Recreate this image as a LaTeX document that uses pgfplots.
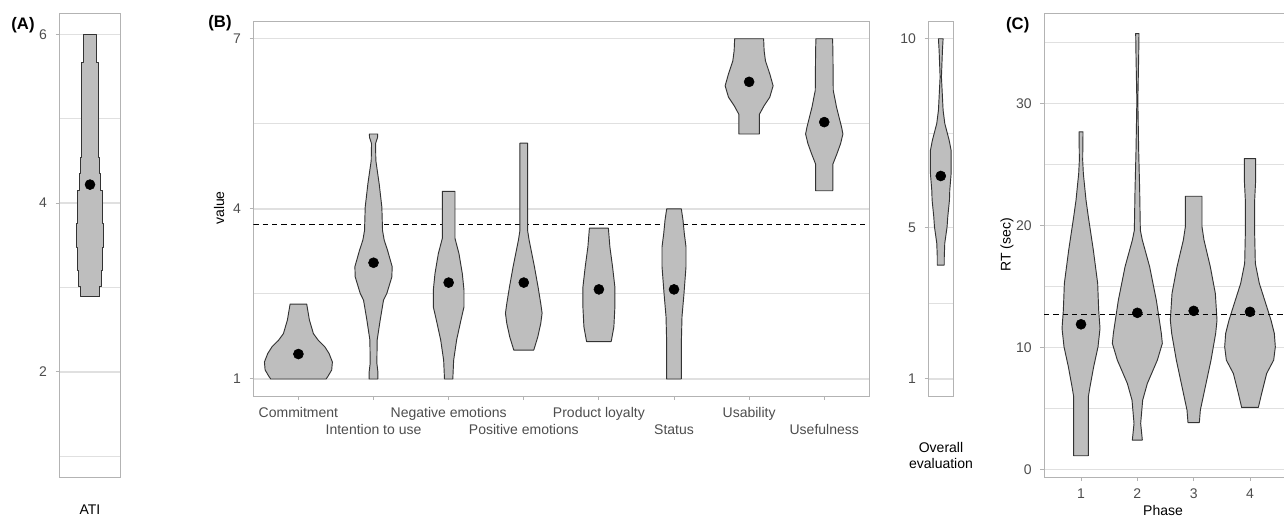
\documentclass[border=0pt]{standalone}
\usepackage{pgfplots}
\pgfplotsset{compat=1.18}
\usepackage{fontspec}
\setmainfont{Liberation Sans}
\definecolor{vfill}{HTML}{BEBEBE}
\definecolor{vdraw}{HTML}{333333}
\definecolor{gridc}{HTML}{E0E0E0}
\definecolor{boxc}{HTML}{B3B3B3}
\definecolor{tickc}{HTML}{4D4D4D}
\pgfplotsset{
 gg/.style={scale only axis, anchor=south west,
  axis line style={draw=boxc, line width=0.75pt},
  ymajorgrids, yminorgrids,
  major grid style={draw=gridc, line width=1pt},
  minor grid style={draw=gridc, line width=0.8pt},
  tick pos=left, tick align=outside, major tick length=2.75pt, minor tick length=0pt,
  tick style={draw=boxc, line width=0.75pt},
  ticklabel style={font=\fontsize{10.5}{12}\selectfont, text=tickc},
  yticklabel style={xshift=-3pt},
  xticklabel style={yshift=-2pt, text height=7.6pt, text depth=2.2pt},
  /pgf/number format/assume math mode=true},
 violin/.style={fill=vfill, draw=vdraw, line width=0.7pt, line join=round},
 mean/.style={only marks, mark=*, mark size=3.75pt, color=black},
}
\newcommand{\violin}[3]{\addplot[violin] table[x expr={#1+(\thisrow{w})/#2}, y=y, row sep=\\] {w y\\ #3};}
\begin{document}
\begin{tikzpicture}
% ---------------- (A)
\begin{axis}[gg, at={(44.5pt,30.5pt)}, width=46pt, height=348pt,
  xmin=0.4, xmax=1.6, ymin=0.75, ymax=6.25,
  ytick={2,4,6}, minor ytick={1,3,5}, xtick=\empty]
\violin{1}{155}{29 2.89\\ 29 3.01\\ 35 3.01\\ 35 3.20\\ 38 3.20\\ 38 3.48\\ 42 3.48\\ 42 3.76\\ 38 3.76\\ 38 4.15\\ 33 4.15\\ 33 4.35\\ 29 4.35\\ 29 4.54\\ 25 4.54\\ 25 5.67\\ 19 5.67\\ 19 6.0\\ -19 6.0\\ -19 5.67\\ -25 5.67\\ -25 4.54\\ -29 4.54\\ -29 4.35\\ -33 4.35\\ -33 4.15\\ -38 4.15\\ -38 3.76\\ -42 3.76\\ -42 3.48\\ -38 3.48\\ -38 3.20\\ -35 3.20\\ -35 3.01\\ -29 3.01\\ -29 2.89\\ 29 2.89\\}
\addplot[mean] coordinates {(1,4.22)};
\end{axis}
% ---------------- (B)
\begin{axis}[gg, at={(190pt,91.5pt)}, width=462pt, height=280.7pt,
  xmin=0.4, xmax=8.6, ymin=0.7, ymax=7.3,
  ytick={1,4,7}, minor ytick={2.5,5.5},
  xtick={1,3,5,7}, xticklabels={Commitment,Negative emotions,Product loyalty,Usability},
  extra x ticks={2,4,6,8}, extra x tick labels={Intention to use,Positive emotions,Status,Usefulness},
  extra x tick style={xticklabel style={yshift=-12.75pt}}]
\addplot[black, dashed, line width=0.75pt, dash pattern=on 4pt off 3pt] coordinates {(0.4,3.72) (8.6,3.72)};
\violin{1}{225.5}{83 1.0\\ 88 1.04\\ 100 1.16\\ 102 1.30\\ 92 1.45\\ 79 1.57\\ 60 1.68\\ 45 1.80\\ 33 2.04\\ 25 2.32\\ -25 2.32\\ -33 2.04\\ -45 1.80\\ -60 1.68\\ -79 1.57\\ -92 1.45\\ -102 1.30\\ -100 1.16\\ -88 1.04\\ -83 1.0\\ 83 1.0\\}
\violin{2}{225.5}{13 1.0\\ 13 1.13\\ 10 1.28\\ 11 1.69\\ 20 2.04\\ 30 2.39\\ 40 2.51\\ 55 2.80\\ 56 2.98\\ 42 3.27\\ 32 3.45\\ 27 3.62\\ 25 4.03\\ 17 4.44\\ 7 4.85\\ 6 5.15\\ 12 5.26\\ 12.5 5.32\\ -12.5 5.32\\ -12 5.26\\ -6 5.15\\ -7 4.85\\ -17 4.44\\ -25 4.03\\ -27 3.62\\ -32 3.45\\ -42 3.27\\ -56 2.98\\ -55 2.80\\ -40 2.51\\ -30 2.39\\ -20 2.04\\ -11 1.69\\ -10 1.28\\ -13 1.13\\ -13 1.0\\ 13 1.0\\}
\violin{3}{225.5}{12.5 1.0\\ 15 1.33\\ 24 1.69\\ 37 2.04\\ 46 2.27\\ 46 2.57\\ 41 2.86\\ 31 3.21\\ 19 3.48\\ 19 4.31\\ -19 4.31\\ -19 3.48\\ -31 3.21\\ -41 2.86\\ -46 2.57\\ -46 2.27\\ -37 2.04\\ -24 1.69\\ -15 1.33\\ -12.5 1.0\\ 12.5 1.0\\}
\violin{4}{225.5}{30 1.51\\ 42 1.74\\ 51 1.98\\ 55 2.16\\ 51 2.33\\ 43 2.62\\ 32 2.98\\ 16 3.45\\ 11.5 3.62\\ 11.5 5.16\\ -11.5 5.16\\ -11.5 3.62\\ -16 3.45\\ -32 2.98\\ -43 2.62\\ -51 2.33\\ -55 2.16\\ -51 1.98\\ -42 1.74\\ -30 1.51\\ 30 1.51\\}
\violin{5}{225.5}{37 1.66\\ 45 1.92\\ 48 2.27\\ 48 2.62\\ 41 2.98\\ 33 3.33\\ 28.5 3.66\\ -28.5 3.66\\ -33 3.33\\ -41 2.98\\ -48 2.62\\ -48 2.27\\ -45 1.92\\ -37 1.66\\ 37 1.66\\}
\violin{6}{225.5}{22 1.0\\ 22 1.63\\ 24 2.10\\ 30 2.51\\ 36 2.98\\ 36 3.33\\ 31 3.56\\ 27 3.80\\ 22 4.0\\ -22 4.0\\ -27 3.80\\ -31 3.56\\ -36 3.33\\ -36 2.98\\ -30 2.51\\ -24 2.10\\ -22 1.63\\ -22 1.0\\ 22 1.0\\}
\violin{7}{225.5}{31 5.32\\ 31 5.67\\ 45 5.82\\ 62 5.97\\ 72 6.17\\ 62 6.38\\ 49 6.61\\ 45 6.79\\ 43.5 7.0\\ -43.5 7.0\\ -45 6.79\\ -49 6.61\\ -62 6.38\\ -72 6.17\\ -62 5.97\\ -45 5.82\\ -31 5.67\\ -31 5.32\\ 31 5.32\\}
\violin{8}{225.5}{26 4.32\\ 26 4.79\\ 38 4.97\\ 49 5.15\\ 56 5.32\\ 52 5.44\\ 37 5.79\\ 27 6.09\\ 26 6.79\\ 25 7.0\\ -25 7.0\\ -26 6.79\\ -27 6.09\\ -37 5.79\\ -52 5.44\\ -56 5.32\\ -49 5.15\\ -38 4.97\\ -26 4.79\\ -26 4.32\\ 26 4.32\\}
\addplot[mean] coordinates {(1,1.44) (2,3.05) (3,2.70) (4,2.70) (5,2.58) (6,2.58) (7,6.24) (8,5.53)};
\end{axis}
% ---------------- Overall evaluation
\begin{axis}[gg, at={(696.2pt,91.5pt)}, width=18.75pt, height=280.7pt,
  xmin=0.4, xmax=1.6, ymin=0.55, ymax=10.45,
  ytick={1,5,10}, minor ytick={3,7.5}, xtick=\empty]
\violin{1}{62.5}{10.5 4.01\\ 10.5 4.23\\ 12 4.59\\ 19 5.03\\ 21 5.29\\ 26 5.73\\ 27 5.99\\ 31 6.43\\ 31 7.05\\ 25 7.32\\ 12 7.76\\ 7 8.11\\ 5 8.46\\ 2 8.99\\ 5 9.69\\ 7 10.0\\ -7 10.0\\ -5 9.69\\ -2 8.99\\ -5 8.46\\ -7 8.11\\ -12 7.76\\ -25 7.32\\ -31 7.05\\ -31 6.43\\ -27 5.99\\ -26 5.73\\ -21 5.29\\ -19 5.03\\ -12 4.59\\ -10.5 4.23\\ -10.5 4.01\\ 10.5 4.01\\}
\addplot[mean] coordinates {(1,6.37)};
\end{axis}
% ---------------- (C)
\begin{axis}[gg, at={(783pt,30.5pt)}, width=182.25pt, height=348pt,
  xmin=0.343, xmax=4.657, ymin=-0.65, ymax=37.4,
  ytick={0,10,20,30}, minor ytick={5,15,25,35}, xtick={1,2,3,4}]
\violin{1}{169}{22 1.12\\ 22 5.96\\ 27 6.78\\ 38 8.42\\ 51 10.05\\ 57 11.56\\ 53 13.06\\ 50 15.25\\ 37 17.98\\ 22 20.71\\ 15 22.08\\ 7 24.26\\ 5 25.36\\ 6 27.68\\ -6 27.68\\ -5 25.36\\ -7 24.26\\ -15 22.08\\ -22 20.71\\ -37 17.98\\ -50 15.25\\ -53 13.06\\ -57 11.56\\ -51 10.05\\ -38 8.42\\ -27 6.78\\ -22 5.96\\ -22 1.12\\ 22 1.12\\}
\violin{2}{169}{15 2.40\\ 10 3.77\\ 16 5.68\\ 30 7.05\\ 60 8.96\\ 75 10.33\\ 72 11.15\\ 57 13.88\\ 37 16.61\\ 15 18.80\\ 9 19.62\\ 7 22.90\\ 4 26.17\\ 1.5 30.27\\ 4 33.83\\ 5 35.74\\ -5 35.74\\ -4 33.83\\ -1.5 30.27\\ -4 26.17\\ -7 22.90\\ -9 19.62\\ -15 18.80\\ -37 16.61\\ -57 13.88\\ -72 11.15\\ -75 10.33\\ -60 8.96\\ -30 7.05\\ -16 5.68\\ -10 3.77\\ -15 2.40\\ 15 2.40\\}
\violin{3}{169}{17 3.83\\ 20 4.86\\ 35 6.78\\ 52 8.96\\ 66 11.15\\ 70 12.24\\ 65 14.43\\ 50 16.61\\ 31 18.80\\ 25 19.89\\ 25 22.40\\ -25 22.40\\ -25 19.89\\ -31 18.80\\ -50 16.61\\ -65 14.43\\ -70 12.24\\ -66 11.15\\ -52 8.96\\ -35 6.78\\ -20 4.86\\ -17 3.83\\ 17 3.83\\}
\violin{4}{169}{25 5.08\\ 35 6.23\\ 50 7.87\\ 71 8.96\\ 76 10.05\\ 73 11.15\\ 63 12.24\\ 44 13.88\\ 28 15.25\\ 16 16.89\\ 14 19.34\\ 14 22.08\\ 17 23.72\\ 17 25.49\\ -17 25.49\\ -17 23.72\\ -14 22.08\\ -14 19.34\\ -16 16.89\\ -28 15.25\\ -44 13.88\\ -63 12.24\\ -73 11.15\\ -76 10.05\\ -71 8.96\\ -50 7.87\\ -35 6.23\\ -25 5.08\\ 25 5.08\\}
\addplot[black, dashed, line width=0.75pt, dash pattern=on 4pt off 3pt] coordinates {(0.343,12.67) (4.657,12.67)};
\addplot[mean] coordinates {(1,11.9) (2,12.84) (3,13.0) (4,12.92)};
\end{axis}
% ---------------- titles
\node[font=\fontsize{12.5}{14}\selectfont\bfseries] at (17.25pt,369.75pt) {(A)};
\node[font=\fontsize{12.5}{14}\selectfont\bfseries] at (165pt,371pt) {(B)};
\node[font=\fontsize{12.5}{14}\selectfont\bfseries] at (763.3pt,369.75pt) {(C)};
\node[font=\fontsize{10.5}{12}\selectfont, rotate=90] at (164.25pt,232.5pt) {value};
\node[font=\fontsize{10.5}{12}\selectfont] at (67.5pt,6pt) {ATI};
\node[font=\fontsize{10.5}{12}\selectfont, align=center] at (705.75pt,47.25pt) {Overall\\evaluation};
\node[font=\fontsize{10.5}{12}\selectfont, rotate=90] at (755.25pt,204.75pt) {RT (sec)};
\node[font=\fontsize{10.5}{12}\selectfont] at (872.25pt,6pt) {Phase};
\pgfresetboundingbox
\path[use as bounding box] (0,0) rectangle (963pt,388.5pt);
\end{tikzpicture}
\end{document}
